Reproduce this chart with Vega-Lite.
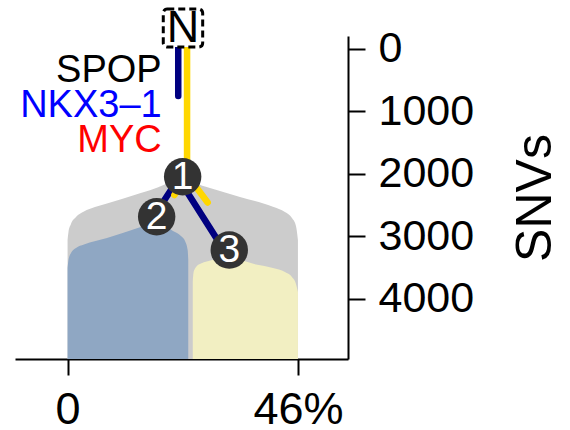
{
  "$schema": "https://vega.github.io/schema/vega-lite/v6.json",
  "width": 333,
  "height": 323,
  "autosize": {"type": "none"},
  "padding": {"left": 15, "top": 36, "right": 222, "bottom": 71},
  "background": "white",
  "config": {"view": {"stroke": null}, "font": "Liberation Sans"},
  "datasets": {
    "clones": [
      {"clone": "1", "x": 0, "y": 3059}, {"clone": "1", "x": 0.18, "y": 2931}, {"clone": "1", "x": 0.68, "y": 2803},
      {"clone": "1", "x": 1.68, "y": 2692}, {"clone": "1", "x": 3.27, "y": 2604}, {"clone": "1", "x": 5.47, "y": 2532},
      {"clone": "1", "x": 7.87, "y": 2476}, {"clone": "1", "x": 14.46, "y": 2313}, {"clone": "1", "x": 16.45, "y": 2263},
      {"clone": "1", "x": 23.04, "y": 2100}, {"clone": "1", "x": 27.44, "y": 2205}, {"clone": "1", "x": 31.43, "y": 2300},
      {"clone": "1", "x": 34.43, "y": 2371}, {"clone": "1", "x": 41.01, "y": 2527}, {"clone": "1", "x": 43.41, "y": 2612},
      {"clone": "1", "x": 44.81, "y": 2708}, {"clone": "1", "x": 45.61, "y": 2835}, {"clone": "1", "x": 46, "y": 3059},
      {"clone": "2", "x": 0, "y": 3506}, {"clone": "2", "x": 0.18, "y": 3378}, {"clone": "2", "x": 0.68, "y": 3267},
      {"clone": "2", "x": 1.68, "y": 3187}, {"clone": "2", "x": 3.27, "y": 3131}, {"clone": "2", "x": 7.87, "y": 3027},
      {"clone": "2", "x": 14.46, "y": 2856}, {"clone": "2", "x": 18.05, "y": 2763}, {"clone": "2", "x": 21.05, "y": 2915},
      {"clone": "2", "x": 22.64, "y": 2995}, {"clone": "2", "x": 23.54, "y": 3091}, {"clone": "2", "x": 23.98, "y": 3219},
      {"clone": "2", "x": 24.1, "y": 3378},
      {"clone": "3", "x": 25, "y": 3730}, {"clone": "3", "x": 25.14, "y": 3586}, {"clone": "3", "x": 25.74, "y": 3482},
      {"clone": "3", "x": 26.64, "y": 3434}, {"clone": "3", "x": 27.78, "y": 3402}, {"clone": "3", "x": 32.29, "y": 3347},
      {"clone": "3", "x": 37.62, "y": 3450}, {"clone": "3", "x": 41.01, "y": 3506}, {"clone": "3", "x": 43.41, "y": 3570},
      {"clone": "3", "x": 44.81, "y": 3650}, {"clone": "3", "x": 45.61, "y": 3762}, {"clone": "3", "x": 46, "y": 3890}
    ],
    "edges": [
      {"line": "A", "seg": "t1", "i": 0, "x": 22.1, "y": -344}, {"line": "A", "seg": "t1", "i": 1, "x": 22.1, "y": 758},
      {"line": "B", "seg": "t2", "i": 0, "x": 23.86, "y": -344}, {"line": "B", "seg": "t2", "i": 1, "x": 23.86, "y": 2048},
      {"line": "A", "seg": "e12", "i": 0, "x": 22.56, "y": 2025}, {"line": "A", "seg": "e12", "i": 1, "x": 17.37, "y": 2664},
      {"line": "B", "seg": "e12b", "i": 0, "x": 23.48, "y": 2073}, {"line": "B", "seg": "e12b", "i": 1, "x": 21.33, "y": 2340},
      {"line": "A", "seg": "e13", "i": 0, "x": 22.22, "y": 2086}, {"line": "A", "seg": "e13", "i": 1, "x": 31.53, "y": 3257},
      {"line": "B", "seg": "e13b", "i": 0, "x": 23.74, "y": 2009}, {"line": "B", "seg": "e13b", "i": 1, "x": 27.98, "y": 2460}
    ],
    "nodes": [
      {"id": "1", "x": 22.98, "y": 2048},
      {"id": "2", "x": 17.79, "y": 2687},
      {"id": "3", "x": 32.29, "y": 3219}
    ],
    "nbox": [
      {"label": "N", "x": 19.11, "x2": 26.98, "y": -631, "y2": -24, "cx": 23.04, "cy": -328}
    ],
    "genes": [
      {"gene": "SPOP", "x": 18.8, "y": 530},
      {"gene": "NKX3–1", "x": 18.8, "y": 1089},
      {"gene": "MYC", "x": 18.8, "y": 1648}
    ]
  },
  "layer": [
    {
      "data": {"name": "clones"},
      "mark": {"type": "area", "interpolate": "monotone", "opacity": 1},
      "encoding": {
        "x": {
          "field": "x", "type": "quantitative",
          "scale": {"domain": [-10.5, 56], "nice": false, "zero": false},
          "axis": {
            "title": null, "orient": "bottom", "values": [0, 46],
            "labelExpr": "datum.value == 46 ? '46%' : datum.label",
            "grid": false, "tickSize": 16, "tickWidth": 2, "tickColor": "black",
            "domainWidth": 2, "domainColor": "black",
            "labelFontSize": 45, "labelColor": "black", "labelFont": "Liberation Sans",
            "labelPadding": 12, "labelFlush": false, "labelBound": false, "labelOverlap": false
          }
        },
        "y": {
          "field": "y", "type": "quantitative", "stack": null,
          "scale": {"domain": [-200, 4960], "reverse": true, "nice": false, "zero": false},
          "axis": {
            "title": "SNVs", "orient": "right", "values": [0, 1000, 2000, 3000, 4000], "format": "d",
            "grid": false, "tickSize": 17, "tickWidth": 2, "tickColor": "black",
            "domainWidth": 2, "domainColor": "black",
            "labelFontSize": 43, "labelColor": "black", "labelFont": "Liberation Sans",
            "labelPadding": 13, "labelOverlap": false, "labelBound": false, "labelFlush": false,
            "titleFontSize": 50, "titleFontWeight": "normal", "titleColor": "black", "titleFont": "Liberation Sans",
            "titleAngle": 270, "titleBaseline": "top", "titlePadding": 37
          }
        },
        "y2": {"datum": 4960},
        "color": {
          "field": "clone", "type": "nominal",
          "scale": {"domain": ["1", "2", "3"], "range": ["#cccccc", "#8fa7c3", "#f2efc2"]},
          "legend": null
        }
      }
    },
    {
      "data": {"name": "edges"},
      "mark": {"type": "line", "strokeWidth": 6.5, "strokeCap": "round"},
      "encoding": {
        "x": {"field": "x", "type": "quantitative"},
        "y": {"field": "y", "type": "quantitative"},
        "detail": {"field": "seg"},
        "order": {"field": "i"},
        "color": {
          "field": "line", "type": "nominal",
          "scale": {"domain": ["A", "B"], "range": ["#000080", "#ffd700"]},
          "legend": null
        }
      }
    },
    {
      "data": {"name": "nodes"},
      "mark": {"type": "point", "shape": "circle", "filled": true, "size": 1400, "color": "#333333", "opacity": 1},
      "encoding": {
        "x": {"field": "x", "type": "quantitative"},
        "y": {"field": "y", "type": "quantitative"}
      }
    },
    {
      "data": {"name": "nodes"},
      "mark": {"type": "text", "fontSize": 39, "color": "white", "align": "center", "baseline": "middle", "font": "Liberation Sans"},
      "encoding": {
        "x": {"field": "x", "type": "quantitative"},
        "y": {"field": "y", "type": "quantitative"},
        "text": {"field": "id"}
      }
    },
    {
      "data": {"name": "nbox"},
      "mark": {"type": "rect", "fill": "white", "stroke": "black", "strokeWidth": 3, "strokeDash": [7, 4], "cornerRadius": 4},
      "encoding": {
        "x": {"field": "x", "type": "quantitative"},
        "x2": {"field": "x2"},
        "y": {"field": "y", "type": "quantitative"},
        "y2": {"field": "y2"}
      }
    },
    {
      "data": {"name": "nbox"},
      "mark": {"type": "text", "fontSize": 45, "color": "black", "align": "center", "baseline": "middle", "font": "Liberation Sans"},
      "encoding": {
        "x": {"field": "cx", "type": "quantitative"},
        "y": {"field": "cy", "type": "quantitative"},
        "text": {"field": "label"}
      }
    },
    {
      "data": {"name": "genes"},
      "mark": {"type": "text", "fontSize": 38, "align": "right", "baseline": "alphabetic", "font": "Liberation Sans"},
      "encoding": {
        "x": {"field": "x", "type": "quantitative"},
        "y": {"field": "y", "type": "quantitative"},
        "text": {"field": "gene"},
        "color": {
          "field": "gene", "type": "nominal",
          "scale": {"domain": ["SPOP", "NKX3–1", "MYC"], "range": ["black", "#0000ff", "#ff0000"]},
          "legend": null
        }
      }
    }
  ],
  "resolve": {"scale": {"color": "independent"}}
}
